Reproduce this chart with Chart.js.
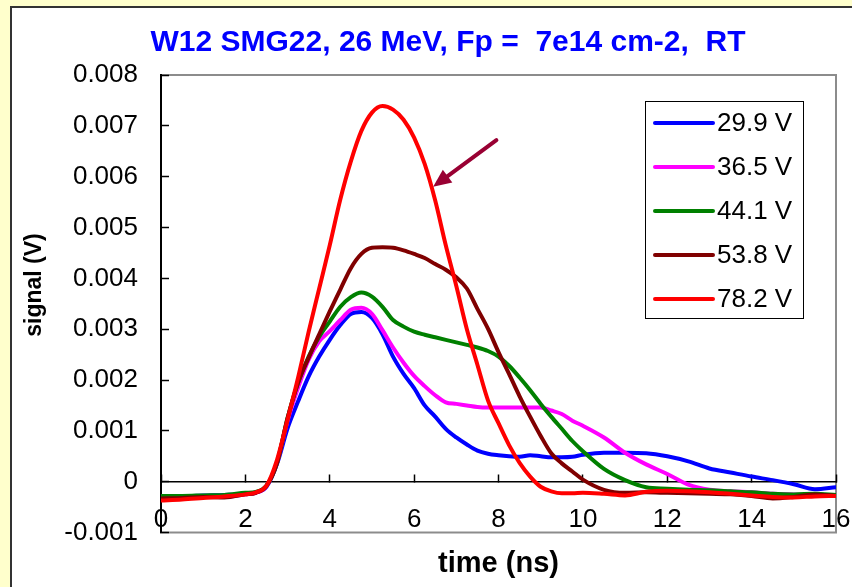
<!DOCTYPE html>
<html>
<head>
<meta charset="utf-8">
<script src="https://cdn.jsdelivr.net/npm/chart.js@4/dist/chart.umd.min.js"></script>
<style>
    html, body { margin: 0; padding: 0; background: #FFFFCC; }
    #wrap { position: relative; width: 852px; height: 587px; overflow: hidden; }
    #panel { position: absolute; left: 10px; top: 6px; width: 900px; height: 700px; background: #fff; border: 2px solid #333; }
    #cht-signal { position: absolute; left: 0; top: 0; }
</style>
</head>
<body>
<div id="wrap">
    <div id="panel"></div>
    <canvas id="cht-signal" width="852" height="587"></canvas>
</div>
<script>
// time axis (ns)
var times = [0, 0.5, 1, 1.5, 2, 2.25, 2.5, 2.75, 3, 3.25, 3.5, 3.75, 4, 4.25, 4.5, 4.75, 5, 5.25, 5.5, 5.75,
    6, 6.25, 6.5, 6.75, 7, 7.25, 7.5, 7.75, 8, 8.25, 8.5, 8.75, 9, 9.25, 9.5, 9.75, 10,
    10.5, 11, 11.5, 12, 12.5, 13, 13.5, 14, 14.5, 15, 15.5, 16];

// signal (V) per bias voltage
var v29_9 = [-0.00030, -0.00029, -0.00027, -0.00026, -0.00024, -0.00021, -0.00010, 0.00035, 0.00105, 0.00158, 0.00207, 0.00246, 0.00279, 0.00308, 0.00330, 0.00334, 0.00322, 0.00290, 0.00246, 0.00212,
    0.00184, 0.00150, 0.00128, 0.00104, 0.00087, 0.00073, 0.00061, 0.00055, 0.00052, 0.00050, 0.00049, 0.00052, 0.00050, 0.00048, 0.00048, 0.00049, 0.00053,
    0.00057, 0.00057, 0.00056, 0.00050, 0.00040, 0.00026, 0.00018, 0.00010, 0.00003, -0.00005, -0.00015, -0.00011];
var v36_5 = [-0.00032, -0.00031, -0.00030, -0.00030, -0.00025, -0.00022, -0.00009, 0.00037, 0.00120, 0.00185, 0.00240, 0.00276, 0.00296, 0.00318, 0.00338, 0.00342, 0.00330, 0.00298, 0.00264, 0.00234,
    0.00208, 0.00188, 0.00170, 0.00156, 0.00153, 0.00150, 0.00147, 0.00146, 0.00146, 0.00146, 0.00146, 0.00146, 0.00146, 0.00140, 0.00133, 0.00120, 0.00110,
    0.00087, 0.00057, 0.00034, 0.00015, -0.00006, -0.00016, -0.00019, -0.00021, -0.00024, -0.00025, -0.00026, -0.00027];
var v44_1 = [-0.00028, -0.00028, -0.00027, -0.00026, -0.00022, -0.00020, -0.00008, 0.00037, 0.00125, 0.00195, 0.00246, 0.00285, 0.00315, 0.00344, 0.00363, 0.00372, 0.00364, 0.00344, 0.00318, 0.00305,
    0.00295, 0.00289, 0.00284, 0.00279, 0.00274, 0.00269, 0.00264, 0.00257, 0.00246, 0.00228, 0.00205, 0.00180, 0.00153, 0.00128, 0.00104, 0.00080, 0.00060,
    0.00025, 0.00003, -0.00011, -0.00014, -0.00016, -0.00017, -0.00019, -0.00021, -0.00024, -0.00025, -0.00024, -0.00026];
var v53_8 = [-0.00033, -0.00032, -0.00030, -0.00031, -0.00025, -0.00022, -0.00008, 0.00037, 0.00125, 0.00195, 0.00244, 0.00290, 0.00335, 0.00378, 0.00420, 0.00448, 0.00460, 0.00461, 0.00460, 0.00455,
    0.00448, 0.00440, 0.00428, 0.00417, 0.00402, 0.00380, 0.00340, 0.00301, 0.00255, 0.00212, 0.00168, 0.00128, 0.00090, 0.00056, 0.00036, 0.00020, 0.00004,
    -0.00016, -0.00022, -0.00021, -0.00022, -0.00023, -0.00024, -0.00025, -0.00028, -0.00033, -0.00030, -0.00025, -0.00028];
var v78_2 = [-0.00037, -0.00035, -0.00032, -0.00029, -0.00025, -0.00021, -0.00008, 0.00043, 0.00122, 0.00205, 0.00295, 0.00380, 0.00465, 0.00555, 0.00630, 0.00690, 0.00726, 0.00739, 0.00732, 0.00712,
    0.00677, 0.00625, 0.00553, 0.00465, 0.00385, 0.00300, 0.00230, 0.00160, 0.00115, 0.00072, 0.00037, 0.00010, -0.00010, -0.00019, -0.00023, -0.00023, -0.00022,
    -0.00024, -0.00027, -0.00020, -0.00018, -0.00019, -0.00021, -0.00024, -0.00027, -0.00030, -0.00031, -0.00029, -0.00028];

var seriesNames = ['29.9 V', '36.5 V', '44.1 V', '53.8 V', '78.2 V'];
var seriesData = [v29_9, v36_5, v44_1, v53_8, v78_2];
var colours = ['#0000FF', '#FF00FF', '#008000', '#800000', '#FF0000'];

var titleText = 'W12 SMG22, 26 MeV, Fp =  7e14 cm-2,  RT';
var xTitle = 'time (ns)';
var yTitle = 'signal (V)';

// arrow annotation, in data units (ns, V)
var arrowTail = [7.95, 0.00672];
var arrowTip = [6.45, 0.00580];

var fontFamily = '"Liberation Sans", Arial, sans-serif';

var datasets = [];
seriesData.forEach(function (vals, i) {
    datasets.push({
        label: seriesNames[i],
        data: vals.map(function (v, j) { return { x: times[j], y: v }; }),
        borderColor: colours[i],
        backgroundColor: colours[i],
        borderWidth: 4,
        pointRadius: 0,
        fill: false,
        cubicInterpolationMode: 'monotone',
        borderCapStyle: 'round',
        borderJoinStyle: 'round',
        order: seriesNames.length - i
    });
});

var decor = {
    id: 'decor',
    beforeDraw: function (chart) {
        var ctx = chart.ctx, ca = chart.chartArea;
        ctx.save();
        ctx.strokeStyle = '#8C8C8C';
        ctx.lineWidth = 2;
        ctx.strokeRect(ca.left, ca.top, ca.right - ca.left, ca.bottom - ca.top);
        ctx.restore();
    },
    afterDatasetsDraw: function (chart) {
        var ctx = chart.ctx, ca = chart.chartArea;
        var xs = chart.scales.x, ys = chart.scales.y;
        ctx.save();

        // arrow
        var x1 = xs.getPixelForValue(arrowTail[0]), y1 = ys.getPixelForValue(arrowTail[1]);
        var x2 = xs.getPixelForValue(arrowTip[0]), y2 = ys.getPixelForValue(arrowTip[1]);
        var ang = Math.atan2(y2 - y1, x2 - x1);
        var hl = 18, hw = 8;
        var bx = x2 - hl * Math.cos(ang), by = y2 - hl * Math.sin(ang);
        ctx.strokeStyle = '#990033';
        ctx.fillStyle = '#990033';
        ctx.lineWidth = 4;
        ctx.lineCap = 'round';
        ctx.beginPath();
        ctx.moveTo(x1, y1);
        ctx.lineTo(bx + 2 * Math.cos(ang), by + 2 * Math.sin(ang));
        ctx.stroke();
        ctx.beginPath();
        ctx.moveTo(x2, y2);
        ctx.lineTo(bx + hw * Math.sin(ang), by - hw * Math.cos(ang));
        ctx.lineTo(bx - hw * Math.sin(ang), by + hw * Math.cos(ang));
        ctx.closePath();
        ctx.fill();

        // legend box
        var lx = ca.right - 191, ly = ca.top + 26, lw = 158, lh = 217;
        ctx.fillStyle = '#fff';
        ctx.fillRect(lx, ly, lw, lh);
        ctx.strokeStyle = '#000';
        ctx.lineWidth = 1;
        ctx.strokeRect(lx + 0.5, ly + 0.5, lw, lh);
        ctx.font = '26px ' + fontFamily;
        ctx.textBaseline = 'middle';
        ctx.textAlign = 'left';
        seriesNames.forEach(function (name, i) {
            var yy = ly + 22 + i * 44;
            ctx.strokeStyle = colours[i];
            ctx.lineWidth = 4;
            ctx.lineCap = 'round';
            ctx.beginPath();
            ctx.moveTo(lx + 10, yy);
            ctx.lineTo(lx + 68, yy);
            ctx.stroke();
            ctx.fillStyle = '#000';
            ctx.fillText(name, lx + 72, yy + 1);
        });

        // titles
        ctx.fillStyle = '#0000FF';
        ctx.font = 'bold 30px ' + fontFamily;
        ctx.textAlign = 'center';
        ctx.fillText(titleText, 448, 43);

        ctx.fillStyle = '#000';
        ctx.font = 'bold 29px ' + fontFamily;
        ctx.fillText(xTitle, (ca.left + ca.right) / 2, 564);

        ctx.translate(35, 285);
        ctx.rotate(-Math.PI / 2);
        ctx.font = 'bold 23px ' + fontFamily;
        ctx.fillText(yTitle, 0, 0);
        ctx.restore();
    }
};

var chS = document.getElementById('cht-signal');
var chtSignal = new Chart(chS, {
    type: 'line',
    data: { datasets: datasets },
    options: {
        responsive: false,
        animation: false,
        layout: { padding: { left: 0, right: 16, top: 75, bottom: 54.5 } },
        plugins: {
            legend: { display: false },
            tooltip: { enabled: false },
            title: { display: false }
        },
        scales: {
            x: {
                type: 'linear',
                position: { y: 0 },
                min: 0, max: 16,
                afterFit: function (scale) { scale.paddingLeft = 0; scale.paddingRight = 0; },
                ticks: {
                    stepSize: 2,
                    padding: 31,
                    color: '#000',
                    font: { size: 26, family: fontFamily },
                    maxRotation: 0,
                    autoSkip: false
                },
                grid: { display: true, drawOnChartArea: false, drawTicks: true, tickLength: -8, tickWidth: 1.5, color: '#000' },
                border: { display: true, color: '#000', width: 1.5 }
            },
            y: {
                type: 'linear',
                min: -0.001, max: 0.008,
                afterFit: function (scale) { scale.width = 161; },
                ticks: {
                    stepSize: 0.001,
                    padding: 31,
                    color: '#000',
                    font: { size: 26, family: fontFamily },
                    callback: function (v) { return Math.abs(v) < 1e-9 ? '0' : v.toFixed(3); }
                },
                grid: { display: true, drawOnChartArea: false, drawTicks: true, tickLength: -8, tickWidth: 1.5, color: '#000' },
                border: { display: true, color: '#000', width: 2 }
            }
        }
    },
    plugins: [decor]
});
</script>
</body>
</html>
